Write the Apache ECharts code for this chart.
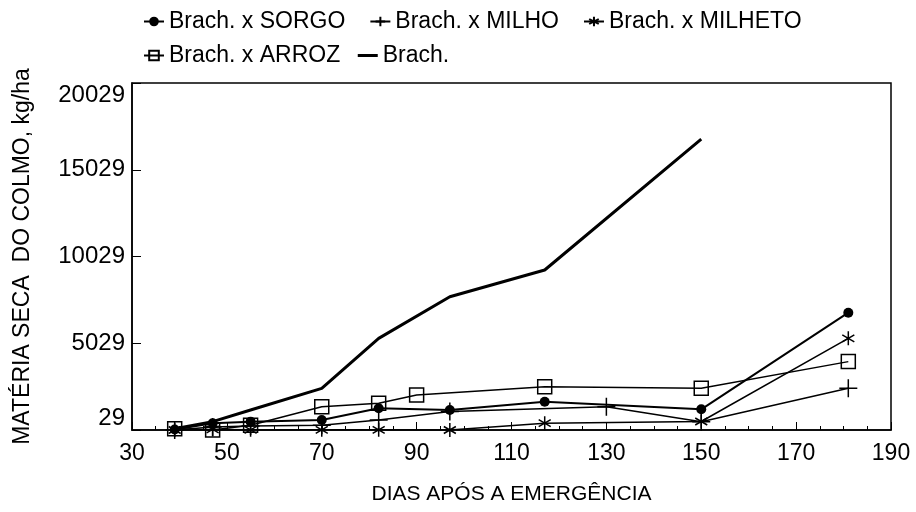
<!DOCTYPE html>
<html>
<head>
<meta charset="utf-8">
<script src="https://cdn.jsdelivr.net/npm/echarts@6/dist/echarts.min.js"></script>
<style>
  html, body { margin: 0; padding: 0; background: #fff; }
  #chart { width: 916px; height: 512px; }
</style>
</head>
<body>
<div id="chart"></div>
<script>
// dias apos a emergencia / materia seca do colmo (kg/ha)
const sorgoX = [39, 47, 55, 70, 82, 97, 117, 150, 181];
const sorgoY = [60, 420, 510, 610, 1280, 1180, 1660, 1220, 6790];

const milhoX = [39, 47, 55, 70, 82, 97, 130, 150, 181];
const milhoY = [29, 200, 260, 300, 600, 1090, 1370, 500, 2430];

const milhetoX = [39, 47, 55, 70, 82, 97, 117, 150, 181];
const milhetoY = [29, 60, 40, 40, 40, 29, 420, 520, 5310];

const arrozX = [39, 47, 55, 70, 82, 90, 117, 150, 181];
const arrozY = [100, 29, 300, 1370, 1570, 2050, 2520, 2430, 3970];

const brachX = [39, 47, 55, 70, 82, 97, 117, 150];
const brachY = [100, 510, 1180, 2430, 5310, 7710, 9250, 16790];

const yTicks = [29, 5029, 10029, 15029, 20029];

const names = ["Brach. x SORGO", "Brach. x MILHO", "Brach. x MILHETO", "Brach. x ARROZ", "Brach."];

function pairs(xs, ys) {
  return xs.map((x, i) => [x, ys[i]]);
}

const plusPath = "path://M0,5L10,5M5,0L5,10";
const starPath = "path://M5,0L5,10M0.7,2.5L9.3,7.5M0.7,7.5L9.3,2.5";

const chart = echarts.init(document.getElementById("chart"));
const font = "Liberation Sans";

const option = {
  animation: false,
  backgroundColor: "#fff",
  textStyle: { fontFamily: font, color: "#000" },
  legend: [
    {
      data: names.slice(0, 3),
      left: 138,
      top: 5,
      itemWidth: 20,
      itemHeight: 12,
      itemGap: 24,
      textStyle: { fontSize: 23, color: "#000", fontFamily: font },
    },
    {
      data: [names[3], { name: names[4], itemStyle: { opacity: 0 }, lineStyle: { width: 3 } }],
      left: 138,
      top: 39,
      itemWidth: 20,
      itemHeight: 12,
      itemGap: 16,
      textStyle: { fontSize: 23, color: "#000", fontFamily: font },
    },
  ],
  grid: {
    left: 132,
    right: 25,
    top: 83,
    bottom: 82,
    outerBoundsMode: "none",
    containLabel: false,
    show: true,
    borderColor: "#000",
    borderWidth: 1.5,
    backgroundColor: "transparent",
  },
  xAxis: {
    type: "value",
    min: 30,
    max: 190,
    interval: 20,
    name: "DIAS APÓS A EMERGÊNCIA",
    nameLocation: "middle",
    nameGap: 54,
    nameTextStyle: { fontSize: 21, color: "#000" },
    axisLine: { lineStyle: { color: "#000", width: 1.5 } },
    axisTick: { inside: true, length: 8, lineStyle: { color: "#000" } },
    minorTick: { show: true, splitNumber: 4, length: 4, lineStyle: { color: "#000" } },
    splitLine: { show: false },
    axisLabel: { fontSize: 23, color: "#000", margin: 12 },
  },
  yAxis: {
    type: "value",
    min: yTicks[0],
    max: yTicks[yTicks.length - 1],
    interval: 5000,
    name: "MATÉRIA SECA  DO COLMO, kg/ha",
    nameLocation: "middle",
    nameGap: 98,
    nameTextStyle: { fontSize: 23, color: "#000" },
    axisLine: { lineStyle: { color: "#000", width: 1.5 } },
    axisTick: { inside: true, length: 9, lineStyle: { color: "#000" } },
    splitLine: { show: false },
    axisLabel: {
      fontSize: 24,
      color: "#000",
      margin: 7,
      formatter: (v) => String(v),
      verticalAlignMinLabel: "bottom",
      verticalAlignMaxLabel: "top",
    },
  },
  series: [
    {
      name: names[0],
      type: "line",
      data: pairs(sorgoX, sorgoY),
      symbol: "circle",
      symbolSize: 10,
      color: "#000",
      itemStyle: { color: "#000" },
      lineStyle: { color: "#000", width: 2 },
      z: 5,
    },
    {
      name: names[1],
      type: "line",
      data: pairs(milhoX, milhoY),
      symbol: plusPath,
      symbolSize: 18,
      symbolKeepAspect: true,
      color: "#000",
      itemStyle: { color: "none", borderColor: "#000", borderWidth: 1.5 },
      lineStyle: { color: "#000", width: 1.5 },
      z: 4,
    },
    {
      name: names[2],
      type: "line",
      data: pairs(milhetoX, milhetoY),
      symbol: starPath,
      symbolSize: 14,
      symbolKeepAspect: true,
      color: "#000",
      itemStyle: { color: "none", borderColor: "#000", borderWidth: 1.5 },
      lineStyle: { color: "#000", width: 1.5 },
      z: 4,
    },
    {
      name: names[3],
      type: "line",
      data: pairs(arrozX, arrozY),
      symbol: "rect",
      symbolSize: 14,
      color: "#000",
      itemStyle: { color: "none", borderColor: "#000", borderWidth: 1.5 },
      lineStyle: { color: "#000", width: 1.5 },
      z: 4,
    },
    {
      name: names[4],
      type: "line",
      data: pairs(brachX, brachY),
      symbol: "none",
      color: "#000",
      itemStyle: { color: "#000" },
      lineStyle: { color: "#000", width: 3 },
      z: 3,
    },
  ],
};

chart.setOption(option);
</script>
</body>
</html>
